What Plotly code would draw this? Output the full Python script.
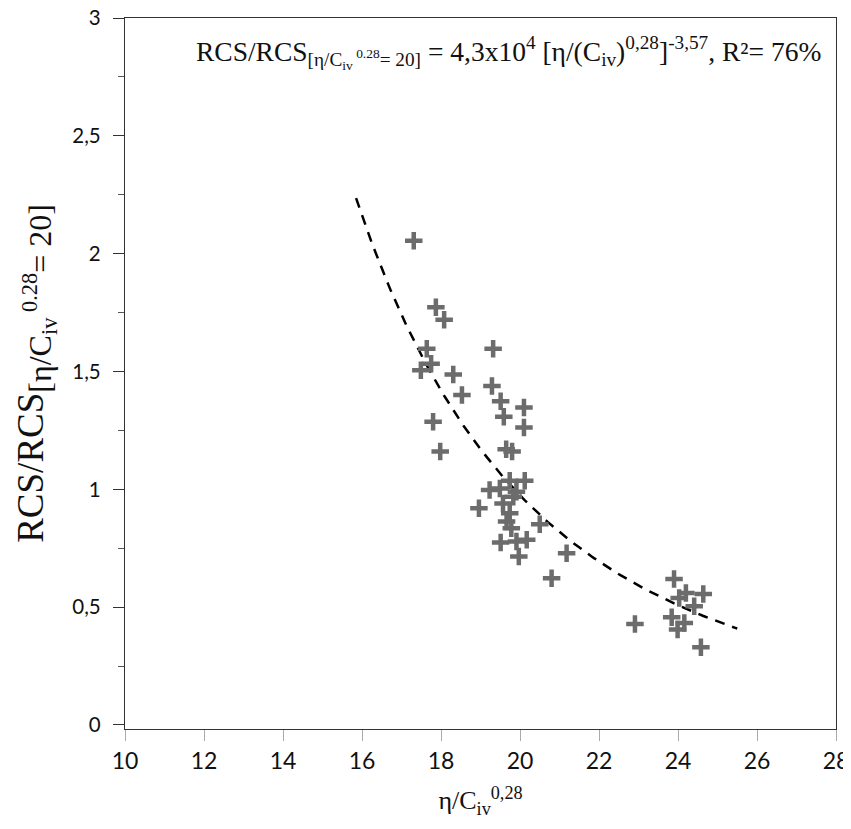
import numpy as np
import plotly.graph_objects as go

# Observed points (η/C_iv^0.28, RCS/RCS ratio)
x_vals = [17.31, 17.87, 18.08, 17.64, 17.75, 17.49, 18.31, 18.53, 19.32, 19.29,
          19.51, 20.10, 19.59, 20.10, 17.80, 17.98, 19.65, 19.80,
          19.49, 19.23, 19.74, 20.12, 19.91, 19.57, 19.83, 18.96, 19.74, 19.66,
          19.78, 19.51, 19.91, 20.17, 19.97, 20.50, 21.18, 20.80,
          23.90, 24.20, 24.03, 24.64, 24.41, 23.84, 24.16, 23.99, 22.91, 24.58]
y_vals = [2.055, 1.773, 1.720, 1.597, 1.533, 1.505, 1.487, 1.400, 1.597, 1.438,
          1.374, 1.347, 1.308, 1.262, 1.287, 1.160, 1.170, 1.160,
          1.004, 0.997, 1.036, 1.036, 0.990, 0.940, 0.969, 0.920, 0.898, 0.863,
          0.835, 0.774, 0.779, 0.786, 0.715, 0.852, 0.729, 0.623,
          0.620, 0.560, 0.539, 0.556, 0.504, 0.457, 0.433, 0.405, 0.429, 0.330]

# Fitted power law from the stated equation
fit_coef = 4.3e4
fit_exp = -3.57
fit_x_range = [15.85, 25.5]

x_ticks = [10, 12, 14, 16, 18, 20, 22, 24, 26, 28]
y_ticks = [0, 0.5, 1, 1.5, 2, 2.5, 3]
y_ticktext = ["0", "0,5", "1", "1,5", "2", "2,5", "3"]

fx = np.linspace(fit_x_range[0], fit_x_range[1], 200)
fy = fit_coef * fx ** fit_exp

fig = go.Figure()
fig.add_trace(go.Scatter(
    x=fx, y=fy, mode="lines",
    line=dict(color="black", width=2.5, dash="10px,8px"),
    showlegend=False, hoverinfo="skip"))
fig.add_trace(go.Scatter(
    x=x_vals, y=y_vals, mode="markers",
    marker=dict(symbol="cross-thin-open", size=12.5, color="#6c6c6c",
                line=dict(color="#6c6c6c", width=4.5)),
    showlegend=False))

serif = "Liberation Serif, Times New Roman, serif"
sans = "Lato, Open Sans, sans-serif"

# page body has an 8px default margin: figure is sized/margined to compensate
fig.update_layout(
    width=843, height=821,
    margin=dict(l=117, r=15, t=10, b=100),
    paper_bgcolor="white", plot_bgcolor="white",
    xaxis=dict(
        range=[10, 28], tickvals=x_ticks, ticks="outside", ticklen=11,
        tickcolor="#aaaaaa", tickwidth=1, automargin=False,
        ticklabeloverflow="allow",
        showline=True, linecolor="#333333", linewidth=1.3, mirror=True,
        showgrid=False, zeroline=False,
        tickfont=dict(family=sans, size=23, color="#111111"),
        title=dict(text="η/C<sub>iv</sub><sup>0,28</sup>",
                   font=dict(family=serif, size=26, color="#111111"), standoff=18),
    ),
    yaxis=dict(
        range=[-0.017, 3], tickvals=y_ticks, ticktext=y_ticktext,
        ticks="outside", ticklen=11, tickcolor="#333333", tickwidth=1,
        automargin=False, ticklabeloverflow="allow", ticklabelstandoff=8,
        minor=dict(dtick=0.25, ticks="outside", ticklen=6, tickcolor="#555555"),
        showline=True, linecolor="#333333", linewidth=1.3, mirror=True,
        showgrid=False, zeroline=False,
        tickfont=dict(family=sans, size=20.5, color="#111111"),
        title=dict(text="RCS/RCS<sub><span style='font-size:32px'>[η/C<sub>iv</sub>"
                        "<sup> 0.28</sup>= 20]</span></sub>",
                   font=dict(family=serif, size=37, color="#111111"), standoff=17),
    ),
    annotations=[dict(
        xref="paper", yref="paper", x=0.982, y=0.983, xanchor="right", yanchor="top",
        showarrow=False,
        text="RCS/RCS<sub>[η/C<sub>iv</sub><sup> 0.28</sup>= 20]</sub> = 4,3x10<sup>4</sup> "
             "[η/(C<sub>iv</sub>)<sup>0,28</sup>]<sup>-3,57</sup>, R²= 76%",
        font=dict(family=serif, size=27.5, color="#111111"),
    )],
)

fig.write_html("out.html")
